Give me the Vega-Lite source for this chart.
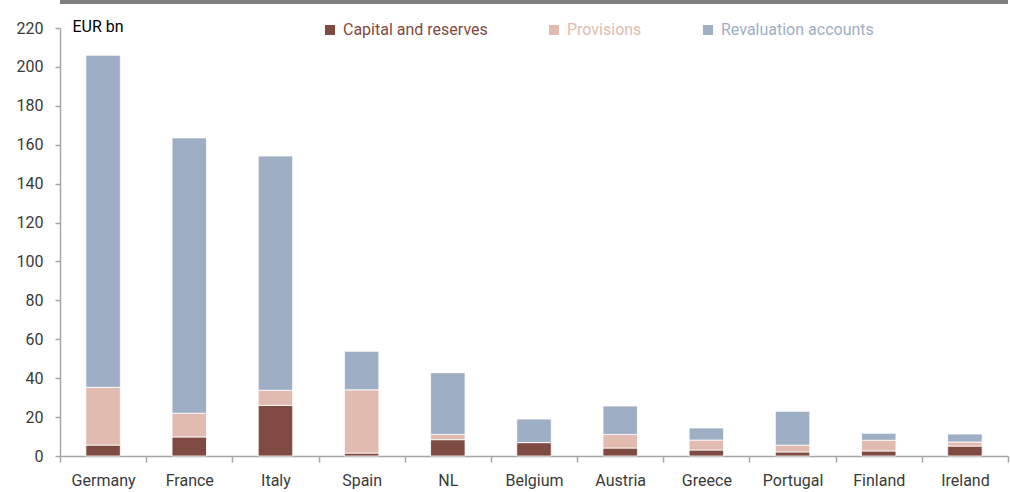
{
  "$schema": "https://vega.github.io/schema/vega-lite/v6.json",
  "width": 948,
  "height": 428,
  "autosize": "none",
  "padding": {"left": 60, "top": 28, "right": 2, "bottom": 36},
  "background": "white",
  "config": {
    "view": {"stroke": null},
    "font": "Roboto"
  },
  "data": {
    "values": [
      {"country": "Germany", "component": "Capital and reserves", "o": 1, "value": 5.6},
      {"country": "Germany", "component": "Provisions", "o": 2, "value": 29.7},
      {"country": "Germany", "component": "Revaluation accounts", "o": 3, "value": 170.7},
      {"country": "France", "component": "Capital and reserves", "o": 1, "value": 9.8},
      {"country": "France", "component": "Provisions", "o": 2, "value": 12.2},
      {"country": "France", "component": "Revaluation accounts", "o": 3, "value": 141.5},
      {"country": "Italy", "component": "Capital and reserves", "o": 1, "value": 26.0},
      {"country": "Italy", "component": "Provisions", "o": 2, "value": 7.8},
      {"country": "Italy", "component": "Revaluation accounts", "o": 3, "value": 120.4},
      {"country": "Spain", "component": "Capital and reserves", "o": 1, "value": 1.5},
      {"country": "Spain", "component": "Provisions", "o": 2, "value": 32.5},
      {"country": "Spain", "component": "Revaluation accounts", "o": 3, "value": 19.8},
      {"country": "NL", "component": "Capital and reserves", "o": 1, "value": 8.4},
      {"country": "NL", "component": "Provisions", "o": 2, "value": 2.7},
      {"country": "NL", "component": "Revaluation accounts", "o": 3, "value": 31.7},
      {"country": "Belgium", "component": "Capital and reserves", "o": 1, "value": 6.9},
      {"country": "Belgium", "component": "Provisions", "o": 2, "value": 0},
      {"country": "Belgium", "component": "Revaluation accounts", "o": 3, "value": 12.1},
      {"country": "Austria", "component": "Capital and reserves", "o": 1, "value": 4.1},
      {"country": "Austria", "component": "Provisions", "o": 2, "value": 7.0},
      {"country": "Austria", "component": "Revaluation accounts", "o": 3, "value": 14.6},
      {"country": "Greece", "component": "Capital and reserves", "o": 1, "value": 3.1},
      {"country": "Greece", "component": "Provisions", "o": 2, "value": 5.1},
      {"country": "Greece", "component": "Revaluation accounts", "o": 3, "value": 6.2},
      {"country": "Portugal", "component": "Capital and reserves", "o": 1, "value": 2.1},
      {"country": "Portugal", "component": "Provisions", "o": 2, "value": 3.5},
      {"country": "Portugal", "component": "Revaluation accounts", "o": 3, "value": 17.4},
      {"country": "Finland", "component": "Capital and reserves", "o": 1, "value": 2.6},
      {"country": "Finland", "component": "Provisions", "o": 2, "value": 5.5},
      {"country": "Finland", "component": "Revaluation accounts", "o": 3, "value": 3.6},
      {"country": "Ireland", "component": "Capital and reserves", "o": 1, "value": 5.1},
      {"country": "Ireland", "component": "Provisions", "o": 2, "value": 2.1},
      {"country": "Ireland", "component": "Revaluation accounts", "o": 3, "value": 4.1}
    ]
  },
  "resolve": {"axis": {"y": "independent"}},
  "layer": [
    {
      "mark": {"type": "bar", "width": {"band": 0.4}, "stroke": "white", "strokeWidth": 0.8},
      "encoding": {
        "x": {
          "field": "country",
          "type": "nominal",
          "sort": null,
          "scale": {"paddingInner": 0, "paddingOuter": 0},
          "axis": {
            "title": null,
            "labelAngle": 0,
            "labelFontSize": 16,
            "labelColor": "#3a3a3a",
            "labelPadding": 10,
            "tickBand": "extent",
            "tickSize": 6,
            "tickColor": "#a6a6a6",
            "domainColor": "#a6a6a6",
            "domainWidth": 1.5,
            "tickWidth": 1.5
          }
        },
        "y": {
          "field": "value",
          "type": "quantitative",
          "stack": "zero",
          "scale": {"domain": [0, 220], "nice": false},
          "axis": {
            "values": [0, 20, 40, 60, 80, 100, 120, 140, 160, 180, 200, 220],
            "labelOverlap": false,
            "grid": false,
            "title": "EUR bn",
            "titleAngle": 0,
            "titleAlign": "left",
            "titleBaseline": "alphabetic",
            "titleX": 12,
            "titleY": 3,
            "titleFontSize": 16,
            "titleFontWeight": "normal",
            "titleColor": "#000000",
            "labelFontSize": 16,
            "labelColor": "#3a3a3a",
            "labelPadding": 12,
            "tickSize": 5,
            "tickColor": "#a6a6a6",
            "domainColor": "#a6a6a6",
            "domainWidth": 1.5,
            "tickWidth": 1.5
          }
        },
        "color": {
          "field": "component",
          "type": "nominal",
          "scale": {
            "domain": ["Capital and reserves", "Provisions", "Revaluation accounts"],
            "range": ["#7e4a41", "#e1bbb0", "#9eaec4"]
          },
          "legend": {
            "title": null,
            "orient": "none",
            "direction": "horizontal",
            "columns": 3,
            "legendX": 262,
            "legendY": -6,
            "columnPadding": 58,
            "symbolType": "square",
            "symbolSize": 100,
            "symbolStrokeWidth": 0,
            "labelFontSize": 16,
            "labelLimit": 0,
            "labelOffset": 5,
            "labelColor": {"expr": "scale('color', datum.value)"}
          }
        },
        "order": {"field": "o", "type": "quantitative"}
      }
    },
    {
      "mark": {"type": "rule", "color": "#808080", "strokeWidth": 4, "clip": false},
      "encoding": {"y": {"datum": 233.4, "axis": null}}
    }
  ]
}
